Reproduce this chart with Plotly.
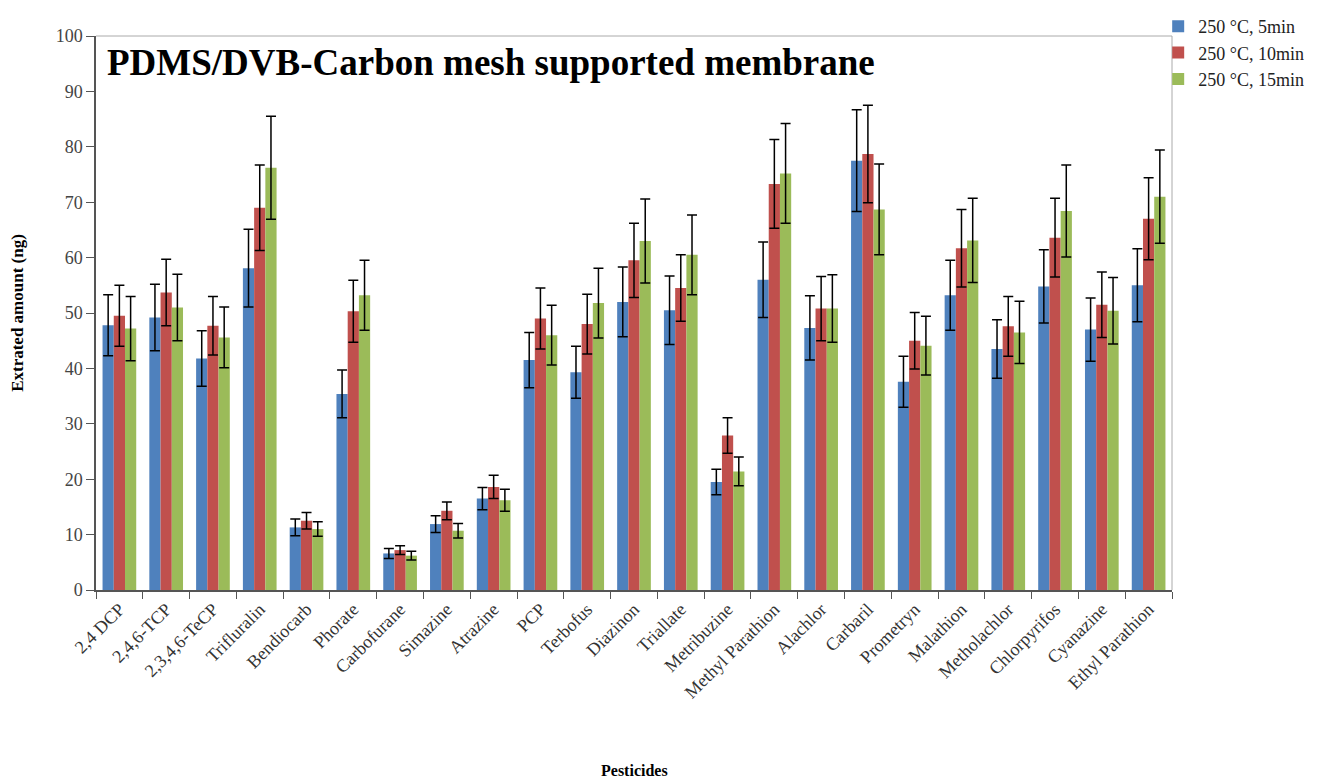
import plotly.graph_objects as go

categories = ["2,4 DCP", "2,4,6-TCP", "2,3,4,6-TeCP", "Trifluralin", "Bendiocarb", "Phorate",
              "Carbofurane", "Simazine", "Atrazine", "PCP", "Terbofus", "Diazinon", "Triallate",
              "Metribuzine", "Methyl Parathion", "Alachlor", "Carbaril", "Prometryn", "Malathion",
              "Metholachlor", "Chlorpyrifos", "Cyanazine", "Ethyl Parathion"]

series_names = ["250 °C, 5min", "250 °C, 10min", "250 °C, 15min"]

vals_5 = [47.8, 49.2, 41.8, 58.1, 11.3, 35.4, 6.6, 11.9, 16.5, 41.5, 39.3, 52.0, 50.5,
          19.5, 56.0, 47.3, 77.5, 37.6, 53.2, 43.5, 54.8, 47.0, 55.0]
err_5 = [5.5, 6.0, 5.0, 7.0, 1.5, 4.3, 0.9, 1.5, 2.0, 5.0, 4.7, 6.3, 6.2,
         2.3, 6.8, 5.8, 9.2, 4.6, 6.3, 5.3, 6.6, 5.7, 6.6]
vals_10 = [49.5, 53.7, 47.7, 69.0, 12.5, 50.3, 7.2, 14.3, 18.6, 49.0, 48.0, 59.5, 54.5,
           27.9, 73.3, 50.8, 78.7, 45.0, 61.7, 47.6, 63.6, 51.5, 67.0]
err_10 = [5.5, 6.0, 5.3, 7.7, 1.5, 5.6, 0.8, 1.6, 2.1, 5.5, 5.4, 6.7, 6.0,
          3.2, 8.0, 5.8, 8.8, 5.1, 7.0, 5.4, 7.1, 5.9, 7.4]
vals_15 = [47.2, 51.0, 45.6, 76.2, 11.0, 53.2, 6.2, 10.7, 16.2, 46.0, 51.8, 63.0, 60.5,
           21.4, 75.2, 50.8, 68.7, 44.1, 63.1, 46.5, 68.4, 50.4, 71.0]
err_15 = [5.8, 6.0, 5.5, 9.3, 1.3, 6.3, 0.8, 1.3, 2.0, 5.4, 6.3, 7.6, 7.2,
          2.6, 9.0, 6.1, 8.2, 5.3, 7.6, 5.6, 8.3, 6.0, 8.4]

colors = ["#4F81BD", "#C0504D", "#9BBB59"]
FONT = "Liberation Serif"

fig = go.Figure()
for name, v, e, c in zip(series_names, [vals_5, vals_10, vals_15], [err_5, err_10, err_15], colors):
    fig.add_trace(go.Bar(
        x=categories, y=v, name=name, marker=dict(color=c, line=dict(width=0)),
        error_y=dict(type="data", array=e, visible=True, color="black", thickness=1.5, width=5),
    ))

# the page places the figure 8px from the top-left corner, so the figure is 8px smaller
fig.update_layout(
    width=1316, height=774,
    barmode="group", bargap=0.28, bargroupgap=0,
    plot_bgcolor="white", paper_bgcolor="white",
    margin=dict(l=88, r=152, t=28, b=192, autoexpand=False),
    font=dict(family=FONT, color="#333333", size=17),
    showlegend=True,
    legend=dict(xref="container", yref="container", x=0.874, y=1.0,
                xanchor="left", yanchor="top",
                font=dict(family=FONT, size=18, color="#222222"),
                bgcolor="rgba(255,255,255,0)", tracegroupgap=0, itemwidth=30),
    annotations=[
        dict(text="<b>PDMS/DVB-Carbon mesh supported membrane</b>", x=0.008, y=0.992,
             xref="paper", yref="paper", xanchor="left", yanchor="top", showarrow=False,
             font=dict(family=FONT, size=37, color="black")),
        dict(text="<b>Pesticides</b>", x=0.5, y=-0.325, xref="paper", yref="paper",
             xanchor="center", yanchor="middle", showarrow=False,
             font=dict(family=FONT, size=16, color="black")),
    ],
)

fig.update_xaxes(
    automargin=False,
    tickangle=-45, tickson="boundaries", ticks="outside", ticklen=7, tickcolor="#555555",
    showline=True, linecolor="#555555", linewidth=1.5, mirror=False,
    tickfont=dict(family=FONT, size=18, color="#333333"),
)
fig.update_yaxes(
    automargin=False,
    range=[0, 100], dtick=10, ticks="outside", ticklen=8, tickcolor="#555555",
    showline=True, linecolor="#555555", linewidth=1.5, showgrid=False, zeroline=False,
    tickfont=dict(family=FONT, size=18, color="#444444"),
    title=dict(text="<b>Extrated amount (ng)</b>", font=dict(family=FONT, size=17, color="black"), standoff=30),
)

# light plot-area border (top and right)
fig.add_shape(type="line", xref="paper", yref="paper", x0=0, x1=1, y0=1, y1=1,
              line=dict(color="#AAAAAA", width=1))
fig.add_shape(type="line", xref="paper", yref="paper", x0=1, x1=1, y0=0, y1=1,
              line=dict(color="#AAAAAA", width=1))

fig.write_html("out.html")
